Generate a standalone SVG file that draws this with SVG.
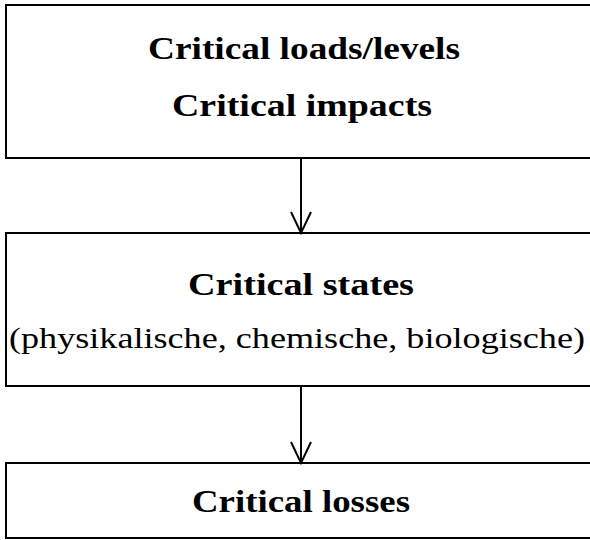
<svg xmlns="http://www.w3.org/2000/svg" width="590" height="540" viewBox="0 0 590 540">
<style>
.box{fill:none;stroke:#000;stroke-width:2}
.b{font-family:"Liberation Serif","DejaVu Serif",serif;font-weight:bold;font-size:31px;text-anchor:middle;fill:#000}
.r{font-family:"Liberation Serif","DejaVu Serif",serif;font-size:30px;text-anchor:middle;fill:#000}
.c{fill:none;stroke:#000;stroke-width:2}
</style>
<rect width="590" height="540" fill="#fff"/>
<g id="node1">
<rect class="box" x="6" y="5" width="590" height="153"/>
<text class="b" x="304" y="59" textLength="312" lengthAdjust="spacingAndGlyphs">Critical loads/levels</text>
<text class="b" x="302" y="116" textLength="260" lengthAdjust="spacingAndGlyphs">Critical impacts</text>
</g>
<g id="node2">
<rect class="box" x="6" y="233" width="590" height="153"/>
<text class="b" x="301" y="295" textLength="226" lengthAdjust="spacingAndGlyphs">Critical states</text>
<text class="r" x="297" y="348" textLength="576" lengthAdjust="spacingAndGlyphs">(physikalische, chemische, biologische)</text>
</g>
<g id="node3">
<rect class="box" x="6" y="463" width="590" height="75"/>
<text class="b" x="301" y="512" textLength="218" lengthAdjust="spacingAndGlyphs">Critical losses</text>
</g>
<g id="connectors">
<path class="c" d="M301 158V233M291 212L301 233L311 212"/>
<path class="c" d="M301 386V463M291 442L301 463L311 442"/>
</g>
</svg>
